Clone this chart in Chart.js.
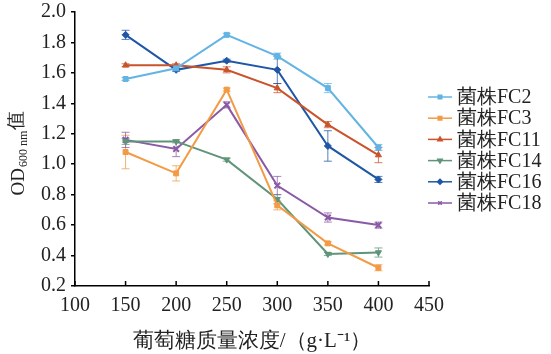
<!DOCTYPE html>
<html>
<head>
<meta charset="utf-8">
<script src="https://cdn.jsdelivr.net/npm/chart.js"></script>
<style>
  html, body { margin: 0; padding: 0; background: #fff; }
  #wrap { width: 551px; height: 354px; }
</style>
</head>
<body>
<div id="wrap"><canvas id="odChart" width="551" height="354"></canvas></div>
<script>
// glucose concentration (g/L)
const concentrations = [150, 200, 250, 300, 350, 400];
const strainNames = ["菌株FC2", "菌株FC3", "菌株FC11", "菌株FC14", "菌株FC16", "菌株FC18"];

// OD600 readings per strain
const fc2 = [1.56, 1.63, 1.85, 1.71, 1.50, 1.11];
const fc3 = [1.08, 0.94, 1.49, 0.73, 0.48, 0.32];
const fc11 = [1.65, 1.65, 1.62, 1.50, 1.26, 1.06];
const fc14 = [1.15, 1.15, 1.03, 0.77, 0.41, 0.42];
const fc16 = [1.85, 1.62, 1.68, 1.62, 1.12, 0.90];
const fc18 = [1.16, 1.10, 1.39, 0.86, 0.65, 0.60];

// standard deviations
const fc2Err = [0.01, 0.01, 0.01, 0.02, 0.03, 0.02];
const fc3Err = [0.11, 0.05, 0.01, 0.03, 0.01, 0.02];
const fc11Err = [0.01, 0.01, 0.02, 0.03, 0.02, 0.05];
const fc14Err = [0.02, 0.01, 0.01, 0.03, 0.01, 0.03];
const fc16Err = [0.03, 0.01, 0.01, 0.09, 0.10, 0.02];
const fc18Err = [0.05, 0.05, 0.02, 0.06, 0.03, 0.02];

const xTicks = [100, 150, 200, 250, 300, 350, 400, 450];
const yTicks = [0.2, 0.4, 0.6, 0.8, 1.0, 1.2, 1.4, 1.6, 1.8, 2.0];

const seriesValues = [fc2, fc3, fc11, fc14, fc16, fc18];
const seriesErrors = [fc2Err, fc3Err, fc11Err, fc14Err, fc16Err, fc18Err];
const colors = ["#62b4e4", "#f39a45", "#c9532b", "#5e9479", "#1f57a6", "#8a5aa6"];
const markers = ["rect", "rect", "triangle", "triangle", "rectRot", "crossRot"];
const markerRotation = [0, 0, 0, 180, 0, 0];

const FONT = '"Times New Roman", "Liberation Serif", serif';

const datasets = seriesValues.map((vals, i) => ({
  label: strainNames[i],
  data: vals.map((v, j) => ({ x: concentrations[j], y: v })),
  errors: seriesErrors[i],
  borderColor: colors[i],
  backgroundColor: colors[i],
  borderWidth: 2,
  pointStyle: markers[i],
  rotation: markerRotation[i],
  pointRadius: markers[i] === "crossRot" ? 4 : 3.5,
  pointBorderWidth: markers[i] === "crossRot" ? 2 : 1,
  tension: 0
}));

// error bars drawn with the chart's scales
const errorBars = {
  id: "errorBars",
  beforeDatasetsDraw(chart) {
    const { ctx, scales: { x, y } } = chart;
    ctx.save();
    ctx.lineWidth = 1;
    chart.data.datasets.forEach(ds => {
      ctx.strokeStyle = ds.borderColor;
      ctx.globalAlpha = 0.75;
      ds.data.forEach((p, j) => {
        const e = ds.errors[j];
        const px = x.getPixelForValue(p.x);
        const top = y.getPixelForValue(p.y + e);
        const bot = y.getPixelForValue(p.y - e);
        ctx.beginPath();
        ctx.moveTo(px, top); ctx.lineTo(px, bot);
        ctx.moveTo(px - 4, top); ctx.lineTo(px + 4, top);
        ctx.moveTo(px - 4, bot); ctx.lineTo(px + 4, bot);
        ctx.stroke();
      });
    });
    ctx.restore();
  }
};

// inward ticks on the x axis, y title with subscript, and the legend
const extras = {
  id: "extras",
  afterDraw(chart) {
    const { ctx, chartArea, scales: { x } } = chart;
    ctx.save();
    ctx.strokeStyle = "#000";
    ctx.lineWidth = 1.5;
    xTicks.forEach(t => {
      const px = x.getPixelForValue(t);
      ctx.beginPath();
      ctx.moveTo(px, chartArea.bottom);
      ctx.lineTo(px, chartArea.bottom - 5);
      ctx.stroke();
    });

    // y axis title: OD600 nm值
    ctx.translate(18, 153);
    ctx.rotate(-Math.PI / 2);
    ctx.fillStyle = "#222";
    ctx.textBaseline = "alphabetic";
    ctx.font = "19px " + FONT;
    const w1 = ctx.measureText("OD").width;
    ctx.font = "12px " + FONT;
    const w2 = ctx.measureText("600 nm").width;
    ctx.font = "19px " + FONT;
    const w3 = ctx.measureText("值").width;
    let cx = -(w1 + w2 + w3 + 2) / 2;
    ctx.fillText("OD", cx, 6);
    cx += w1 + 1;
    ctx.font = "12px " + FONT;
    ctx.fillText("600 nm", cx, 9);
    cx += w2 + 1;
    ctx.font = "19px " + FONT;
    ctx.fillText("值", cx, 4);
    ctx.setTransform(1, 0, 0, 1, 0, 0);

    // legend
    ctx.font = "20px " + FONT;
    ctx.textBaseline = "middle";
    chart.data.datasets.forEach((ds, i) => {
      const ly = 97 + i * 21.2;
      ctx.strokeStyle = ds.borderColor;
      ctx.fillStyle = ds.borderColor;
      ctx.lineWidth = 1.5;
      ctx.beginPath();
      ctx.moveTo(428, ly); ctx.lineTo(452, ly);
      ctx.stroke();
      if (Chart.helpers && Chart.helpers.drawPoint) {
        Chart.helpers.drawPoint(ctx, {
          pointStyle: ds.pointStyle, rotation: ds.rotation,
          radius: 2.5, borderWidth: 1
        }, 440, ly);
      }
      ctx.fillStyle = "#222";
      ctx.fillText(ds.label, 457, ly + 1);
    });
    ctx.restore();
  }
};

new Chart(document.getElementById("odChart"), {
  type: "line",
  data: { datasets },
  options: {
    responsive: false,
    animation: false,
    layout: { padding: { left: 0, right: 122, top: 12, bottom: 0 } },
    plugins: { legend: { display: false }, tooltip: { enabled: false } },
    scales: {
      x: {
        type: "linear",
        min: 100,
        max: 450,
        afterBuildTicks: axis => { axis.ticks = xTicks.map(v => ({ value: v })); },
        afterFit: axis => { axis.height = 68; },
        grid: { display: false, drawTicks: false },
        border: { display: true, color: "#000", width: 1.5 },
        ticks: { color: "#222", padding: 8, font: { family: FONT, size: 20 } },
        title: {
          display: true,
          text: "葡萄糖质量浓度/（g·L⁻¹）",
          color: "#222",
          padding: { top: 3, bottom: 0 },
          font: { family: FONT, size: 21 }
        }
      },
      y: {
        min: 0.2,
        max: 2.0,
        afterBuildTicks: axis => { axis.ticks = yTicks.map(v => ({ value: v })); },
        afterFit: axis => {
          axis.width = 75;
          axis.paddingTop = 0;
          axis.paddingBottom = 0;
        },
        grid: { display: true, drawOnChartArea: false, drawTicks: true, tickLength: 4, color: "#000", lineWidth: 1.5 },
        border: { display: true, color: "#000", width: 1.5 },
        ticks: {
          color: "#222",
          padding: 5,
          font: { family: FONT, size: 20 },
          callback: v => v.toFixed(1)
        }
      }
    }
  },
  plugins: [errorBars, extras]
});
</script>
</body>
</html>
